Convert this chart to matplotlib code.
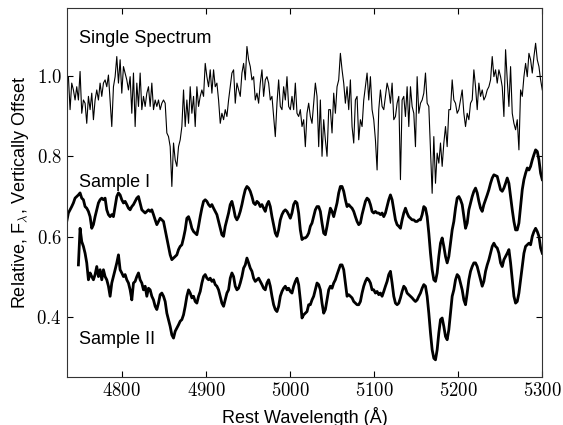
import numpy as np
import matplotlib
matplotlib.use("Agg")
import matplotlib.pyplot as plt
from matplotlib.ticker import FuncFormatter

plt.rcParams["mathtext.fontset"] = "cm"
plt.rcParams["font.family"] = ["Liberation Sans", "DejaVu Sans"]

# single spectrum, relative flux (blue half then red half)
single_blue = [
    0.998, 0.916, 0.982, 0.965, 0.940, 0.973, 0.940, 1.011, 0.907, 0.940,
    0.932, 0.882, 0.949, 0.916, 0.957, 0.891, 0.940, 0.965, 0.940, 0.982,
    0.949, 0.982, 0.990, 0.973, 1.002, 0.940, 0.874, 0.973, 0.998, 1.048,
    0.982, 1.040, 0.957, 1.023, 1.007, 0.990, 0.965, 0.998, 0.907, 1.007,
    0.874, 0.982, 0.924, 1.007, 0.916, 0.949, 0.924, 0.957, 0.973, 0.924,
    0.982, 0.916, 0.940, 0.924, 0.940, 0.916, 0.932, 0.940, 0.932, 0.858,
    0.849, 0.824, 0.725, 0.833, 0.791, 0.775, 0.824, 0.841, 0.874, 0.965,
    0.874, 0.940, 0.882, 0.973, 0.907, 0.949, 0.874, 0.973, 0.924, 0.949,
    0.965, 0.949, 1.031, 0.998, 0.973, 1.015, 0.957, 1.015, 0.973, 0.982,
    0.940, 0.882, 0.907, 0.891, 0.916, 0.899, 0.940, 0.973, 1.007, 1.015,
    0.932, 0.982, 0.965, 0.949, 1.007, 1.031, 0.990, 1.073, 1.040, 1.023,
    0.990, 0.998, 0.940, 0.957, 0.932, 0.982, 1.015, 0.949, 0.990, 0.998,
    0.982, 0.940, 0.949, 0.899, 0.849, 0.932, 0.990, 0.924, 0.916, 0.973,
    0.940, 0.998, 0.924, 0.916, 0.949, 0.916, 0.982, 0.907, 0.899, 0.916,
    0.874, 0.891, 0.824, 0.907, 0.932, 0.899,
]
single_red = [
    0.882, 0.932, 0.982, 0.949, 0.824, 0.940, 0.800, 0.891, 0.841, 0.800,
    0.916, 0.916, 0.858, 0.957, 0.907, 0.973, 0.990, 1.056, 1.015, 0.982,
    0.932, 0.973, 0.916, 0.990, 0.874, 0.833, 0.940, 0.949, 0.841, 0.891,
    0.874, 0.940, 0.973, 1.007, 0.940, 0.998, 0.916, 0.891, 0.841, 0.766,
    0.916, 0.965, 0.924, 0.916, 0.949, 0.982, 0.965, 0.932, 0.982, 0.891,
    0.899, 0.932, 0.949, 0.742, 0.940, 0.949, 0.899, 0.973, 0.874, 0.973,
    0.924, 0.907, 0.824, 0.998, 0.907, 0.932, 0.940, 0.957, 1.007, 0.932,
    0.924, 0.816, 0.708, 0.849, 0.733, 0.808, 0.783, 0.833, 0.775, 0.833,
    0.874, 0.824, 0.916, 0.916, 0.990, 0.940, 0.932, 0.907, 0.916, 0.940,
    0.965, 0.907, 0.874, 0.907, 0.891, 0.932, 0.940, 1.015, 0.973, 0.916,
    0.982, 0.949, 0.965, 0.940, 0.949, 0.965, 0.973, 0.990, 1.048, 0.998,
    1.015, 0.982, 1.015, 0.998, 0.973, 0.899, 1.065, 0.990, 0.924, 1.023,
    0.907, 0.882, 0.866, 0.891, 0.816, 0.965, 0.949, 0.998, 1.031, 0.998,
    1.056, 1.040, 1.007, 1.048, 1.081, 1.040, 1.023, 0.990, 0.965,
]

# sample I composite
sample1_blue = [
    0.638, 0.659, 0.667, 0.675, 0.684, 0.696, 0.700, 0.704, 0.709, 0.696,
    0.692, 0.675, 0.671, 0.663, 0.650, 0.621, 0.630, 0.650, 0.667, 0.684,
    0.692, 0.696, 0.692, 0.696, 0.667, 0.655, 0.650, 0.655, 0.650, 0.675,
    0.700, 0.709, 0.704, 0.692, 0.684, 0.688, 0.680, 0.671, 0.667, 0.675,
    0.680, 0.688, 0.696, 0.700, 0.684, 0.667, 0.663, 0.659, 0.663, 0.667,
    0.663, 0.667, 0.655, 0.642, 0.630, 0.638, 0.646, 0.642, 0.638, 0.617,
    0.597, 0.576, 0.555, 0.543, 0.547, 0.551, 0.555, 0.568, 0.576, 0.580,
    0.597, 0.617, 0.646, 0.650, 0.638, 0.621, 0.613, 0.609, 0.605, 0.626,
    0.650, 0.671, 0.688, 0.692, 0.688, 0.680, 0.675, 0.680, 0.671, 0.663,
    0.655, 0.638, 0.621, 0.605, 0.601, 0.626, 0.642, 0.659, 0.680, 0.688,
    0.671, 0.650, 0.642, 0.650, 0.663, 0.680, 0.700, 0.717, 0.725, 0.721,
    0.713, 0.700, 0.684, 0.680, 0.688, 0.684, 0.675, 0.680, 0.671, 0.663,
    0.680, 0.688, 0.675, 0.650, 0.630, 0.609, 0.601, 0.617, 0.642, 0.655,
    0.663, 0.667, 0.663, 0.655, 0.646, 0.659, 0.680, 0.688, 0.684, 0.659,
    0.617, 0.593, 0.597, 0.597, 0.601, 0.609, 0.626,
]
sample1_red = [
    0.634, 0.650, 0.667, 0.675, 0.675, 0.663, 0.634, 0.609, 0.605, 0.626,
    0.650, 0.671, 0.663, 0.650, 0.667, 0.684, 0.709, 0.725, 0.725, 0.713,
    0.692, 0.675, 0.680, 0.675, 0.671, 0.663, 0.650, 0.638, 0.630, 0.634,
    0.655, 0.671, 0.688, 0.696, 0.692, 0.680, 0.663, 0.659, 0.663, 0.659,
    0.659, 0.655, 0.659, 0.650, 0.659, 0.675, 0.692, 0.704, 0.692, 0.667,
    0.642, 0.630, 0.626, 0.621, 0.642, 0.659, 0.671, 0.659, 0.650, 0.646,
    0.642, 0.642, 0.638, 0.638, 0.642, 0.642, 0.655, 0.675, 0.671, 0.650,
    0.609, 0.559, 0.518, 0.493, 0.489, 0.510, 0.551, 0.584, 0.597, 0.576,
    0.551, 0.535, 0.551, 0.584, 0.617, 0.638, 0.671, 0.696, 0.700, 0.692,
    0.680, 0.650, 0.621, 0.634, 0.667, 0.684, 0.700, 0.713, 0.721, 0.709,
    0.688, 0.671, 0.663, 0.680, 0.692, 0.704, 0.717, 0.733, 0.746, 0.754,
    0.752, 0.750, 0.733, 0.717, 0.713, 0.721, 0.733, 0.746, 0.733, 0.700,
    0.667, 0.638, 0.617, 0.617, 0.634, 0.675, 0.717, 0.742, 0.758, 0.771,
    0.766, 0.775, 0.791, 0.804, 0.816, 0.812, 0.791, 0.758, 0.742,
]

# sample II composite
sample2_blue = [
    0.530, 0.621, 0.588, 0.576, 0.559, 0.535, 0.493, 0.510, 0.501, 0.493,
    0.506, 0.526, 0.501, 0.518, 0.493, 0.518, 0.501, 0.493, 0.477, 0.452,
    0.485, 0.501, 0.518, 0.535, 0.555, 0.518, 0.510, 0.501, 0.506, 0.493,
    0.485, 0.468, 0.443, 0.485, 0.489, 0.501, 0.510, 0.493, 0.485, 0.468,
    0.477, 0.452, 0.472, 0.468, 0.452, 0.443, 0.427, 0.419, 0.435, 0.456,
    0.460, 0.452, 0.439, 0.410, 0.394, 0.377, 0.356, 0.348, 0.365, 0.373,
    0.381, 0.390, 0.394, 0.406, 0.427, 0.452, 0.468, 0.460, 0.448, 0.452,
    0.439, 0.435, 0.452, 0.464, 0.485, 0.501, 0.506, 0.497, 0.493, 0.497,
    0.489, 0.493, 0.481, 0.477, 0.468, 0.452, 0.435, 0.427, 0.443, 0.460,
    0.468, 0.497, 0.510, 0.501, 0.477, 0.468, 0.472, 0.485, 0.501, 0.522,
    0.530, 0.547, 0.535, 0.522, 0.514, 0.497, 0.489, 0.493, 0.497, 0.489,
    0.481, 0.472, 0.468, 0.485, 0.493, 0.477, 0.452, 0.431, 0.419, 0.414,
    0.427, 0.452, 0.464, 0.472, 0.477, 0.468, 0.472, 0.464, 0.460, 0.477,
    0.489, 0.497, 0.481, 0.443, 0.398, 0.406, 0.410, 0.414, 0.431, 0.431,
]
sample2_red = [
    0.443, 0.452, 0.468, 0.485, 0.481, 0.468, 0.435, 0.410, 0.419, 0.443,
    0.468, 0.477, 0.472, 0.485, 0.493, 0.506, 0.518, 0.530, 0.530, 0.518,
    0.485, 0.452, 0.456, 0.452, 0.448, 0.439, 0.435, 0.431, 0.431, 0.439,
    0.460, 0.477, 0.489, 0.497, 0.493, 0.485, 0.468, 0.468, 0.460, 0.464,
    0.456, 0.460, 0.452, 0.464, 0.477, 0.489, 0.506, 0.514, 0.485, 0.452,
    0.435, 0.431, 0.435, 0.448, 0.464, 0.477, 0.472, 0.460, 0.456, 0.452,
    0.448, 0.443, 0.439, 0.443, 0.452, 0.460, 0.472, 0.481, 0.477, 0.452,
    0.410, 0.361, 0.319, 0.298, 0.294, 0.319, 0.361, 0.394, 0.398, 0.377,
    0.352, 0.344, 0.369, 0.410, 0.452, 0.468, 0.493, 0.506, 0.501, 0.485,
    0.468, 0.443, 0.431, 0.460, 0.493, 0.514, 0.526, 0.535, 0.535, 0.526,
    0.510, 0.493, 0.477, 0.489, 0.514, 0.530, 0.543, 0.559, 0.576, 0.584,
    0.576, 0.572, 0.559, 0.535, 0.526, 0.543, 0.551, 0.559, 0.568, 0.535,
    0.493, 0.452, 0.435, 0.439, 0.460, 0.493, 0.526, 0.559, 0.576, 0.580,
    0.584, 0.580, 0.601, 0.613, 0.621, 0.613, 0.601, 0.572, 0.559,
]

# wavelength coverage (Angstrom), uniform sampling
single_range = (4736.5, 5300.0)
sample1_range = (4734.5, 5300.0)
sample2_range = (4748.4, 5300.0)

single_flux = np.array(single_blue + single_red)
sample1_flux = np.array(sample1_blue + sample1_red)
sample2_flux = np.array(sample2_blue + sample2_red)

wl_single = np.linspace(*single_range, len(single_flux))
wl_s1 = np.linspace(*sample1_range, len(sample1_flux))
wl_s2 = np.linspace(*sample2_range, len(sample2_flux))

fig = plt.figure(figsize=(5.63, 4.25), dpi=100)
ax = fig.add_axes([0.1185, 0.1136, 0.8447, 0.8669])

ax.plot(wl_single, single_flux, color="black", lw=0.8)
ax.plot(wl_s1, sample1_flux, color="black", lw=2.0)
ax.plot(wl_s2, sample2_flux, color="black", lw=2.0)

ax.text(4749, 1.094, "Single Spectrum", fontsize=13, ha="left", va="center")
ax.text(4749, 0.734, "Sample I", fontsize=13, ha="left", va="center")
ax.text(4749, 0.345, "Sample II", fontsize=13, ha="left", va="center")

ax.set_xlim(4734.5, 5300)
ax.set_ylim(0.252, 1.168)
ax.set_xticks([4800, 4900, 5000, 5100, 5200, 5300])
ax.set_yticks([0.4, 0.6, 0.8, 1.0])
ax.xaxis.set_major_formatter(FuncFormatter(lambda v, p: f"${v:.0f}$"))
ax.yaxis.set_major_formatter(FuncFormatter(lambda v, p: f"${v:.1f}$"))
ax.tick_params(direction="in", top=True, right=True, length=4, labelsize=13.5)
for sp in ax.spines.values():
    sp.set_color("#333333")

ax.set_xlabel("Rest Wavelength (Å)", fontsize=13, labelpad=5)
ax.set_ylabel(r"Relative, F$_\lambda$, Vertically Offset", fontsize=13, labelpad=4)

fig.savefig("out.png", dpi=100)
